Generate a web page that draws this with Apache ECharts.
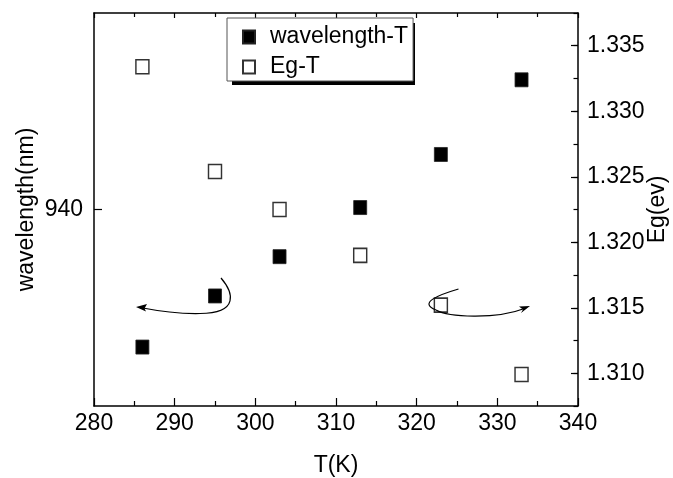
<!DOCTYPE html>
<html>
<head>
<meta charset="utf-8">
<script src="https://cdn.jsdelivr.net/npm/echarts@6/dist/echarts.min.js"></script>
<style>
html,body{margin:0;padding:0;background:#fff;}
#chart{width:673px;height:478px;}
</style>
</head>
<body>
<div id="chart"></div>
<script>
// Data
var temperatures = [286, 295, 303, 313, 323, 333];
var wavelengthValues = [933.0, 935.6, 937.6, 940.1, 942.8, 946.6];
var egValues = [1.3334, 1.3254, 1.3225, 1.3190, 1.3152, 1.3099];
var xTicks = [280, 290, 300, 310, 320, 330, 340];
var wavelengthTickLabels = [940];
var egTickLabels = [1.310, 1.315, 1.320, 1.325, 1.330, 1.335];
var seriesNames = ['wavelength-T', 'Eg-T'];

function pairs(xs, ys) { return xs.map(function (x, i) { return [x, ys[i]]; }); }

var FONT = '"Liberation Sans", Arial, sans-serif';
var FS = 23;
var chart = echarts.init(document.getElementById('chart'), null, { renderer: 'canvas' });

var axisLine = { show: true, lineStyle: { color: '#000', width: 1.5 } };
var labelStyle = { color: '#000', fontSize: FS, fontFamily: FONT };
var nameStyle = { color: '#000', fontSize: FS, fontFamily: FONT };

var option = {
  animation: false,
  backgroundColor: '#fff',
  grid: { left: 94, right: 95, top: 13, bottom: 72, containLabel: false, outerBoundsMode: 'none' },
  legend: {
    orient: 'vertical',
    left: 227, top: 18,
    data: seriesNames,
    itemWidth: 12, itemHeight: 13, itemGap: 6,
    padding: [7, 5, 2, 15],
    backgroundColor: '#fff',
    borderColor: '#555', borderWidth: 1,
    textStyle: { color: '#000', fontSize: FS, fontFamily: FONT, lineHeight: 24, padding: [0, 0, 0, 10] },
    z: 10
  },
  xAxis: [{
    type: 'value', position: 'bottom', min: xTicks[0], max: xTicks[xTicks.length - 1], interval: 10,
    axisLine: axisLine,
    axisTick: { show: true, inside: true, length: 8, lineStyle: { color: '#000', width: 1.2 } },
    minorTick: { show: true, splitNumber: 2, length: 5, lineStyle: { color: '#000', width: 1.2 } },
    splitLine: { show: false },
    axisLabel: Object.assign({ margin: 6 }, labelStyle),
    name: 'T(K)', nameLocation: 'middle', nameGap: 48, nameMoveOverlap: false,
    nameTextStyle: nameStyle
  }, {
    type: 'value', position: 'top', min: xTicks[0], max: xTicks[xTicks.length - 1], interval: 10,
    axisLine: axisLine,
    axisTick: { show: true, inside: true, length: 5, lineStyle: { color: '#000', width: 1.2 } },
    minorTick: { show: true, splitNumber: 2, length: 4, lineStyle: { color: '#000', width: 1.2 } },
    splitLine: { show: false },
    axisLabel: { show: false }
  }],
  yAxis: [{
    type: 'value', position: 'left', min: 930, max: 950, interval: 10,
    axisLine: axisLine,
    axisTick: { show: true, inside: true, length: 8, lineStyle: { color: '#000', width: 1.2 } },
    splitLine: { show: false },
    axisLabel: Object.assign({
      margin: 11, showMinLabel: false, showMaxLabel: false,
      formatter: function (v) { return wavelengthTickLabels.indexOf(v) >= 0 ? String(v) : ''; }
    }, labelStyle),
    name: 'wavelength(nm)', nameLocation: 'middle', nameGap: 56, nameRotate: 90, nameMoveOverlap: false,
    nameTextStyle: nameStyle
  }, {
    type: 'value', position: 'right', min: 1.3075, max: 1.3375, interval: 0.0025,
    axisLine: axisLine,
    axisTick: { show: true, inside: true, length: 7, customValues: egTickLabels, lineStyle: { color: '#000', width: 1.2 } },
    splitLine: { show: false },
    axisLabel: Object.assign({
      margin: 9, customValues: egTickLabels,
      formatter: function (v) { return v.toFixed(3); }
    }, labelStyle),
    name: 'Eg(ev)', nameLocation: 'middle', nameGap: 68, nameRotate: 90, nameMoveOverlap: false,
    nameTextStyle: nameStyle
  }, {
    type: 'value', position: 'right', min: 1.3075, max: 1.3375, interval: 0.0025,
    axisLine: { show: false },
    axisTick: { show: true, inside: true, length: 4.5, lineStyle: { color: '#000', width: 1.2 } },
    splitLine: { show: false },
    axisLabel: { show: false }
  }],
  series: [{
    name: seriesNames[0], type: 'scatter', xAxisIndex: 0, yAxisIndex: 0,
    symbol: 'rect', symbolSize: [13, 14],
    itemStyle: { color: '#000', borderColor: '#222', borderWidth: 0.8, opacity: 1 },
    data: pairs(temperatures, wavelengthValues), z: 3
  }, {
    name: seriesNames[1], type: 'scatter', xAxisIndex: 0, yAxisIndex: 1,
    symbol: 'rect', symbolSize: [13, 14],
    itemStyle: { color: '#fff', borderColor: '#333', borderWidth: 1.5, opacity: 1 },
    data: pairs(temperatures, egValues), z: 3
  }],
  graphic: [
    // legend drop shadow
    { type: 'rect', silent: true, z: 1, zlevel: 0,
      shape: { x: 232, y: 23, width: 183, height: 62 },
      style: { fill: '#000' } },
    // left arrow (points to left axis)
    { type: 'bezierCurve', silent: true, z: 5,
      shape: { x1: 221, y1: 278, cpx1: 233, cpy1: 292, cpx2: 240, cpy2: 313, x2: 200, y2: 313.5 },
      style: { stroke: '#000', lineWidth: 1.2, fill: null } },
    { type: 'bezierCurve', silent: true, z: 5,
      shape: { x1: 200, y1: 313.5, cpx1: 178, cpy1: 314, cpx2: 158, cpy2: 311, x2: 140, y2: 307.5 },
      style: { stroke: '#000', lineWidth: 1.2, fill: null } },
    { type: 'polygon', silent: true, z: 5,
      shape: { points: [[136, 307], [147, 304], [144.5, 308.5], [146, 311.5]] },
      style: { fill: '#000' } },
    // right arrow (points to right axis)
    { type: 'bezierCurve', silent: true, z: 5,
      shape: { x1: 458.5, y1: 289, cpx1: 438, cpy1: 295, cpx2: 418, cpy2: 303, x2: 436, y2: 310 },
      style: { stroke: '#000', lineWidth: 1.2, fill: null } },
    { type: 'bezierCurve', silent: true, z: 5,
      shape: { x1: 436, y1: 310, cpx1: 448, cpy1: 317, cpx2: 495, cpy2: 320, x2: 526, y2: 308 },
      style: { stroke: '#000', lineWidth: 1.2, fill: null } },
    { type: 'polygon', silent: true, z: 5,
      shape: { points: [[530, 306], [519, 306.5], [523, 309.5], [521, 313]] },
      style: { fill: '#000' } }
  ]
};
chart.setOption(option);
</script>
</body>
</html>
